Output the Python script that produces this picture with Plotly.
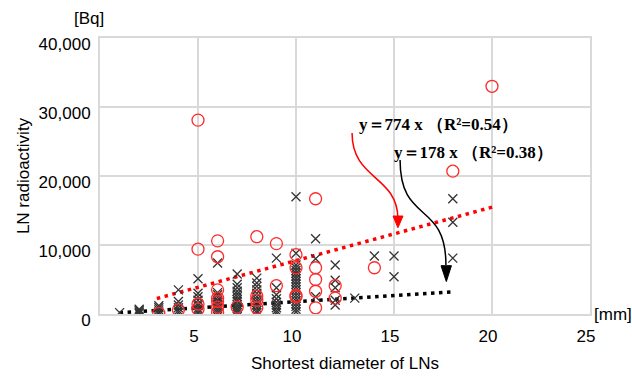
import plotly.graph_objects as go

# ---------------- data ----------------
black_x = ([1] + [2]*4 + [3]*5 + [4]*6 + [5]*9 + [6]*11 + [7]*13 + [8]*12 + [9]*9
           + [10]*20 + [11]*3 + [12]*5 + [13] + [14] + [15]*2 + [18]*3)
black_y = ([200]
           + [100, 300, 500, 700]
           + [100, 300, 600, 900, 1200]
           + [200, 500, 900, 1300, 1800, 3500]
           + [200, 500, 800, 1200, 1500, 2000, 2500, 3000, 5100]
           + [200, 500, 800, 1100, 1400, 1700, 2000, 2400, 2800, 3100, 7400]
           + [200, 500, 800, 1100, 1400, 1800, 2100, 2500, 2900, 3300, 3800, 4300, 5800]
           + [200, 500, 900, 1300, 1700, 2100, 2500, 3000, 3500, 4000, 4500, 5200]
           + [200, 500, 900, 1300, 1700, 2200, 2800, 3800, 8100]
           + [300, 700, 1100, 1500, 1900, 2300, 2700, 3100, 3500, 3900, 4300, 4700,
              5100, 5500, 5900, 6300, 6700, 7100, 8800, 17000]
           + [2500, 8000, 10900]
           + [1300, 2000, 3800, 4900, 7100]
           + [2300]
           + [8400]
           + [5400, 8400]
           + [8100, 13300, 16700])

red_x = ([3] + [4] + [5]*4 + [6]*7 + [7] + [8]*4 + [9]*2 + [10]*4 + [11]*5
         + [12]*2 + [14] + [18] + [20])
red_y = ([100]
         + [600]
         + [700, 1450, 9400, 28100]
         + [300, 1000, 1800, 2300, 3500, 8300, 10600]
         + [1000]
         + [900, 2000, 2600, 11200]
         + [4100, 10200]
         + [2500, 2700, 6700, 8600]
         + [900, 3300, 5000, 6700, 16700]
         + [2300, 4100]
         + [6700]
         + [20700]
         + [33000])

red_slope = 774
black_slope = 178
red_fit_x = [2.9, 20.2]
black_fit_x = [1.0, 18.0]

x_ticks = [5, 10, 15, 20, 25]
y_ticks = [0, 10000, 20000, 30000, 40000]
y_tick_text = ["0", "10,000", "20,000", "30,000", "40,000"]

label_red = "y＝774 x （R²=0.54）"
label_black = "y＝178 x （R²=0.38）"

# ---------------- figure ----------------
fig = go.Figure()

fig.add_trace(go.Scatter(
    x=red_fit_x, y=[red_slope * v for v in red_fit_x], mode="lines",
    line=dict(color="#ff0000", width=3.5, dash="3.5px,4.5px"), hoverinfo="skip"))
fig.add_trace(go.Scatter(
    x=black_fit_x, y=[black_slope * v for v in black_fit_x], mode="lines",
    line=dict(color="#000000", width=3.5, dash="3.5px,4.5px"), hoverinfo="skip"))

fig.add_trace(go.Scatter(
    x=black_x, y=black_y, mode="markers",
    marker=dict(symbol="x-thin", size=9, line=dict(color="#333333", width=1.3))))
fig.add_trace(go.Scatter(
    x=red_x, y=red_y, mode="markers",
    marker=dict(symbol="circle-open", size=12, color="#ff2a2a", line=dict(width=1.3))))

# curved arrows (decorations)
red_path = "M 12.86,26230 C 12.86,19420 15.15,20140 15.20,13900"
black_path = "M 15.31,22315 C 15.31,12900 17.65,16520 17.65,7100"
fig.add_shape(type="path", path=red_path, xref="x", yref="y",
              line=dict(color="#ff0000", width=1.5))
fig.add_shape(type="path", path=black_path, xref="x", yref="y",
              line=dict(color="#000000", width=1.5))
fig.add_shape(type="path", path="M 14.95,14200 L 15.46,14200 L 15.20,12500 Z",
              xref="x", yref="y", fillcolor="#ff0000", line=dict(color="#ff0000", width=1))
fig.add_shape(type="path", path="M 17.40,7000 L 17.93,7000 L 17.67,4700 Z",
              xref="x", yref="y", fillcolor="#000000", line=dict(color="#000000", width=1))

ann_font = dict(family="Liberation Serif, Times New Roman, serif", size=17, color="#000")
fig.add_annotation(x=13.11, y=27530, text="<b>" + label_red + "</b>", showarrow=False,
                   xanchor="left", yanchor="middle", font=ann_font)
fig.add_annotation(x=14.9, y=23470, text="<b>" + label_black + "</b>", showarrow=False,
                   xanchor="left", yanchor="middle", font=ann_font)

lab_font = dict(family="Liberation Sans, Arial, sans-serif", size=17, color="#000")
fig.add_annotation(xref="paper", yref="paper", x=-0.022, y=1.072, text="[Bq]",
                   showarrow=False, xanchor="center", yanchor="middle", font=lab_font)
fig.add_annotation(xref="paper", yref="paper", x=1.005, y=0.0, text="[mm]",
                   showarrow=False, xanchor="left", yanchor="middle", font=lab_font)

grid = "#d9d9d9"
fig.update_layout(
    width=632, height=378,
    margin=dict(l=100, r=42, t=38, b=64),
    paper_bgcolor="white", plot_bgcolor="white",
    showlegend=False,
    font=lab_font,
    xaxis=dict(range=[0, 25], tickvals=x_ticks, showgrid=True, gridcolor=grid, gridwidth=2,
               showline=True, linecolor=grid, linewidth=2, mirror=True, zeroline=False,
               ticks="", ticklabelstandoff=6, ticklabelshift=-4, automargin=False,
               title=dict(text="Shortest diameter of LNs", standoff=12, font=lab_font)),
    yaxis=dict(range=[0, 40000], tickvals=y_ticks, ticktext=y_tick_text, showgrid=True,
               gridcolor=grid, gridwidth=2, showline=True, linecolor=grid, linewidth=2,
               mirror=True, zeroline=False, ticks="", ticklabelstandoff=4,
               ticklabelshift=6, automargin=False,
               title=dict(text="LN radioactivity", standoff=5, font=lab_font)),
)

fig.write_html("out.html", config={"displayModeBar": False},
               post_script="document.body.style.margin='0';")
